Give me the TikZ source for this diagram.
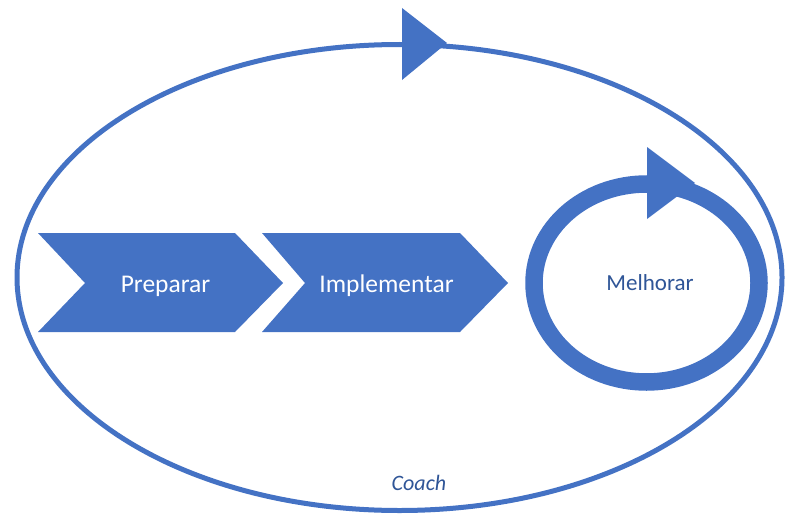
\documentclass[tikz,border=0pt]{standalone}
\usepackage{fontspec}
\setmainfont{Carlito}
\definecolor{flowblue}{HTML}{4472C4}
\definecolor{labelblue}{HTML}{2F5597}
\begin{document}
\begin{tikzpicture}[x=1pt,y=-1pt,
  loopline/.style={draw=flowblue},
  arrowtip/.style={fill=flowblue},
  chevron/.style={fill=flowblue},
  steplabel/.style={text=white,font=\fontsize{25.5}{30}\selectfont,anchor=base},
  innerlabel/.style={text=labelblue,font=\fontsize{23}{28}\selectfont,anchor=base},
  outerlabel/.style={text=labelblue,font=\fontsize{22}{26}\selectfont\itshape,anchor=base}]
  \useasboundingbox (0,0) rectangle (786,519);

  % outer coaching loop
  \draw[loopline,line width=5pt] (399.5,277.5) ellipse [x radius=382.5pt, y radius=233pt];
  \fill[arrowtip] (402,8) -- (447,43) -- (402,80) -- cycle;

  % process chevrons
  \fill[chevron] (38,233) -- (235,233) -- (283,283) -- (235,332) -- (38,332) -- (85,283) -- cycle;
  \fill[chevron] (262,233) -- (460,233) -- (508,283) -- (460,332) -- (262,332) -- (305,283) -- cycle;

  % improvement cycle
  \draw[loopline,line width=17.5pt] (646.5,283) ellipse [x radius=112.5pt, y radius=99pt];
  \fill[arrowtip] (647,147) -- (695,183) -- (647,219) -- cycle;

  % labels
  \node[steplabel] (prep) at (165.5,292) {Preparar};
  \node[steplabel] (impl) at (386.5,292) {Implementar};
  \node[innerlabel] (melh) at (650,290) {Melhorar};
  \node[outerlabel] (coach) at (419,490) {Coach};
\end{tikzpicture}
\end{document}
